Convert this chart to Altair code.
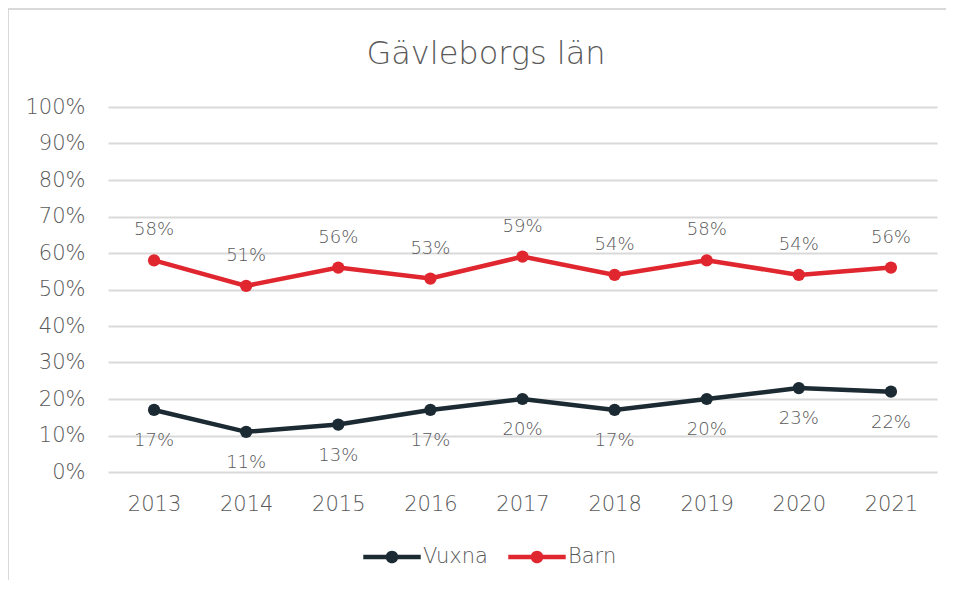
import altair as alt
import pandas as pd

years = ["2013", "2014", "2015", "2016", "2017", "2018", "2019", "2020", "2021"]
vuxna = [0.17, 0.11, 0.13, 0.17, 0.20, 0.17, 0.20, 0.23, 0.22]
barn = [0.58, 0.51, 0.56, 0.53, 0.59, 0.54, 0.58, 0.54, 0.56]
series = ["Vuxna", "Barn"]
colors = ["#1b2a33", "#e0262e"]
title_text = "Gävleborgs län"

rows = []
for name, vals in zip(series, [vuxna, barn]):
    for y, v in zip(years, vals):
        rows.append({"year": y, "series": name, "value": v})
df = pd.DataFrame(rows)

FONT = "DejaVu Sans"
GRAY = "#595959"
W = 200

sym = ("M-1,-0.075H-0.18V0.075H-1Z M0.18,-0.075H1V0.075H0.18Z "
       "M0.22,0A0.22,0.22,0,1,1,-0.22,0A0.22,0.22,0,1,1,0.22,0Z")

x = alt.X("year:O", title=None, sort=years,
          scale=alt.Scale(paddingInner=1, paddingOuter=0.5),
          axis=alt.Axis(labelAngle=0, labelFontSize=21, labelColor=GRAY, labelFont=FONT,
                        labelFontWeight=W, ticks=False, domain=False, labelPadding=21))
y = alt.Y("value:Q", title=None,
          scale=alt.Scale(domain=[0, 1], nice=False),
          axis=alt.Axis(format=".0%", values=[i / 10 for i in range(11)],
                        labelFontSize=21, labelColor=GRAY, labelFont=FONT, labelFontWeight=W,
                        ticks=False, domain=False, labelPadding=23,
                        gridColor="#d9d9d9", gridWidth=1.8))
color = alt.Color("series:N", sort=series,
                  scale=alt.Scale(domain=series, range=colors),
                  legend=alt.Legend(title=None, orient="none", direction="horizontal",
                                    legendX=255, legendY=421,
                                    symbolType=sym, symbolSize=3300, symbolStrokeWidth=0,
                                    labelFontSize=21, labelColor=GRAY, labelFont=FONT,
                                    labelFontWeight=W, columnPadding=20, labelOffset=2))

base = alt.Chart(df)
points = base.mark_point(filled=True, size=150, opacity=1).encode(x=x, y=y, color=color)
lines = base.mark_line(strokeWidth=4.5).encode(x=x, y=y, color=color)
lab_b = base.transform_filter(alt.datum.series == "Barn").mark_text(
    dy=-30, fontSize=18, color=GRAY, font=FONT, fontWeight=W).encode(
    x=x, y=y, text=alt.Text("value:Q", format=".0%"))
lab_v = base.transform_filter(alt.datum.series == "Vuxna").mark_text(
    dy=31, fontSize=18, color=GRAY, font=FONT, fontWeight=W).encode(
    x=x, y=y, text=alt.Text("value:Q", format=".0%"))

single = alt.Chart(alt.Data(values=[{"t": title_text}]))
title = single.mark_text(fontSize=32, color=GRAY, font=FONT, fontWeight=W,
                         baseline="middle", align="center").encode(
    x=alt.value(378), y=alt.value(-53), text="t:N")
top_border = single.mark_rule(color="#d9d9d9", strokeWidth=2).encode(
    x=alt.value(-100), x2=alt.value(840), y=alt.value(-98))
left_border = single.mark_rule(color="#d9d9d9", strokeWidth=2).encode(
    x=alt.value(-100), y=alt.value(-98), y2=alt.value(480))

chart = alt.layer(points, lines, lab_b, lab_v, title, top_border, left_border).properties(
    width=829, height=365,
    autosize=alt.AutoSizeParams(type="none"),
    padding={"left": 100, "top": 99, "right": 9, "bottom": 108},
).configure_view(strokeWidth=0)

chart.save("out.html", embed_options={"renderer": "svg", "actions": False})
